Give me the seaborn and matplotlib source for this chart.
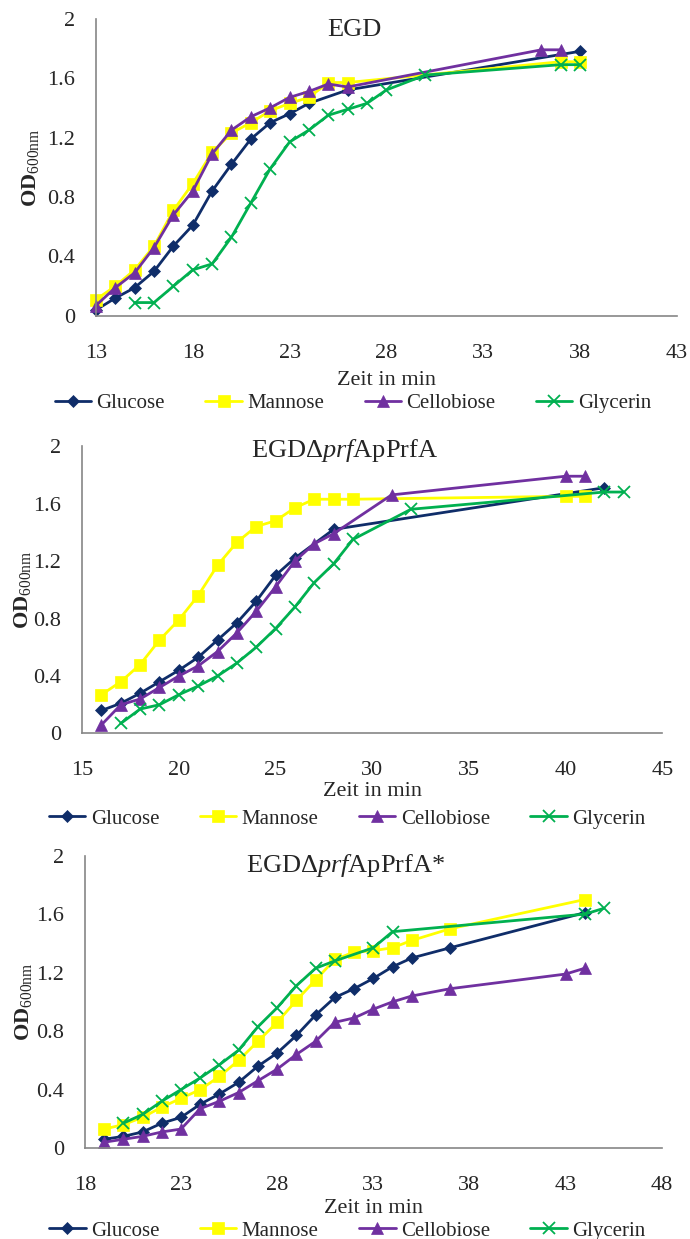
import numpy as np
import pandas as pd
import matplotlib
matplotlib.use('Agg')
import matplotlib.pyplot as plt
import seaborn as sns

# Wachstumskurven
sugars = ['Glucose', 'Mannose', 'Cellobiose', 'Glycerin']
colors = ['#0F2D69', '#FFFF00', '#7030A0', '#00B050']
markers = ['D', 's', '^', 'x']
marker_sizes = [6, 9, 9, 8]

# EGD
egd_glc_t = [13, 14, 15, 16, 17, 18, 19, 20, 21, 22, 23, 24, 26, 38]
egd_glc_od = [0.04, 0.12, 0.19, 0.30, 0.47, 0.61, 0.84, 1.02, 1.19, 1.30, 1.36, 1.43, 1.52, 1.78]
egd_man_t = [13, 14, 15, 16, 17, 18, 19, 20, 21, 22, 23, 24, 25, 26, 37, 38]
egd_man_od = [0.11, 0.20, 0.31, 0.47, 0.71, 0.89, 1.10, 1.23, 1.30, 1.38, 1.43, 1.47, 1.57, 1.57, 1.71, 1.71]
egd_cel_t = [13, 14, 15, 16, 17, 18, 19, 20, 21, 22, 23, 24, 25, 26, 36, 37]
egd_cel_od = [0.07, 0.19, 0.29, 0.46, 0.68, 0.84, 1.09, 1.25, 1.34, 1.40, 1.47, 1.51, 1.56, 1.54, 1.79, 1.79]
egd_gly_t = [15, 16, 17, 18, 19, 20, 21, 22, 23, 24, 25, 26, 27, 28, 30, 37, 38]
egd_gly_od = [0.09, 0.09, 0.20, 0.31, 0.35, 0.53, 0.76, 0.99, 1.17, 1.25, 1.35, 1.39, 1.43, 1.52, 1.62, 1.69, 1.69]

# EGD delta prfA pPrfA
prfa_glc_t = [16, 17, 18, 19, 20, 21, 22, 23, 24, 25, 26, 28, 42]
prfa_glc_od = [0.16, 0.21, 0.28, 0.36, 0.44, 0.53, 0.65, 0.77, 0.92, 1.10, 1.22, 1.42, 1.71]
prfa_man_t = [16, 17, 18, 19, 20, 21, 22, 23, 24, 25, 26, 27, 28, 29, 40, 41]
prfa_man_od = [0.27, 0.36, 0.48, 0.65, 0.79, 0.96, 1.17, 1.33, 1.44, 1.48, 1.57, 1.63, 1.63, 1.63, 1.65, 1.65]
prfa_cel_t = [16, 17, 18, 19, 20, 21, 22, 23, 24, 25, 26, 27, 28, 31, 40, 41]
prfa_cel_od = [0.06, 0.20, 0.24, 0.32, 0.40, 0.47, 0.57, 0.70, 0.85, 1.02, 1.20, 1.32, 1.39, 1.66, 1.79, 1.79]
prfa_gly_t = [17, 18, 19, 20, 21, 22, 23, 24, 25, 26, 27, 28, 29, 32, 42, 43]
prfa_gly_od = [0.07, 0.17, 0.20, 0.27, 0.33, 0.40, 0.49, 0.60, 0.73, 0.88, 1.05, 1.18, 1.35, 1.56, 1.68, 1.68]

# EGD delta prfA pPrfA*
star_glc_t = [19, 20, 21, 22, 23, 24, 25, 26, 27, 28, 29, 30, 31, 32, 33, 34, 35, 37, 44]
star_glc_od = [0.06, 0.08, 0.11, 0.17, 0.21, 0.30, 0.37, 0.45, 0.56, 0.65, 0.77, 0.91, 1.03, 1.09, 1.16, 1.24, 1.30, 1.37, 1.61]
star_man_t = [19, 20, 21, 22, 23, 24, 25, 26, 27, 28, 29, 30, 31, 32, 33, 34, 35, 37, 44]
star_man_od = [0.13, 0.16, 0.21, 0.28, 0.34, 0.40, 0.49, 0.60, 0.73, 0.86, 1.01, 1.15, 1.29, 1.34, 1.35, 1.37, 1.42, 1.50, 1.70]
star_cel_t = [19, 20, 21, 22, 23, 24, 25, 26, 27, 28, 29, 30, 31, 32, 33, 34, 35, 37, 43, 44]
star_cel_od = [0.04, 0.06, 0.08, 0.11, 0.13, 0.27, 0.32, 0.38, 0.46, 0.54, 0.64, 0.73, 0.86, 0.89, 0.95, 1.00, 1.04, 1.09, 1.19, 1.23]
star_gly_t = [20, 21, 22, 23, 24, 25, 26, 27, 28, 29, 30, 31, 33, 34, 44, 45]
star_gly_od = [0.17, 0.23, 0.32, 0.40, 0.48, 0.57, 0.67, 0.83, 0.96, 1.11, 1.23, 1.28, 1.37, 1.48, 1.60, 1.64]

y_ticks = [0, 0.4, 0.8, 1.2, 1.6, 2]
y_tick_labels = ['0', '0.4', '0.8', '1.2', '1.6', '2']

panels = [
    ('EGD', 13, [(egd_glc_t, egd_glc_od), (egd_man_t, egd_man_od), (egd_cel_t, egd_cel_od), (egd_gly_t, egd_gly_od)]),
    (r'EGD$\Delta\mathit{prf}$ApPrfA', 15, [(prfa_glc_t, prfa_glc_od), (prfa_man_t, prfa_man_od), (prfa_cel_t, prfa_cel_od), (prfa_gly_t, prfa_gly_od)]),
    (r'EGD$\Delta\mathit{prf}$ApPrfA*', 18, [(star_glc_t, star_glc_od), (star_man_t, star_man_od), (star_cel_t, star_cel_od), (star_gly_t, star_gly_od)]),
]

sns.set_style('white')
plt.rcParams['font.family'] = ['Liberation Serif', 'DejaVu Serif']
plt.rcParams['mathtext.fontset'] = 'custom'
plt.rcParams['mathtext.rm'] = 'Liberation Serif'
plt.rcParams['mathtext.it'] = 'Liberation Serif:italic'
plt.rcParams['mathtext.bf'] = 'Liberation Serif:bold'

fig = plt.figure(figsize=(6.9, 12.39), dpi=100)
# axes rectangles in figure fractions, plus a few per-panel offsets
rects = [[0.139, 0.745, 0.842, 0.240],
         [0.119, 0.408, 0.841, 0.232],
         [0.123, 0.0734, 0.836, 0.236]]
title_y = [0.96, 0.986, 0.966]
title_x = [0.445, 0.452, 0.452]
xlabel_pad = [6, 1, 3]
ylabel_x = [-0.095, -0.085, -0.088]
legend_anchor = [(-0.071, -0.262), (-0.057, -0.263), (-0.062, -0.25)]

axis_grey = '#868686'

for i, (rect, (title, x0, series)) in enumerate(zip(rects, panels)):
    ax = fig.add_axes(rect)
    frames = []
    for name, (t, od) in zip(sugars, series):
        frames.append(pd.DataFrame({'Zeit': t, 'OD': od, 'Zucker': name}))
    df = pd.concat(frames, ignore_index=True)
    for name, col, mk, ms in zip(sugars, colors, markers, marker_sizes):
        sub = df[df['Zucker'] == name]
        sns.lineplot(data=sub, x='Zeit', y='OD', ax=ax, color=col, marker=mk,
                     markersize=ms, markeredgecolor=col,
                     markeredgewidth=1.3 if mk == 'x' else 0.5,
                     linewidth=2, label=name, sort=False, clip_on=False)

    x_ticks = list(range(x0, x0 + 31, 5))
    ax.set_xlim(x0, x0 + 30)
    ax.set_ylim(0, 2)
    ax.set_xticks(x_ticks)
    ax.set_xticklabels([str(v) for v in x_ticks], fontsize=16)
    ax.set_yticks(y_ticks)
    ax.set_yticklabels(y_tick_labels, fontsize=16)
    ax.tick_params(axis='x', direction='out', length=6, width=1, color=axis_grey, pad=14)
    ax.tick_params(axis='y', direction='out', length=6, width=1, color=axis_grey, pad=9)
    for side in ['top', 'right']:
        ax.spines[side].set_visible(False)
    for side in ['left', 'bottom']:
        ax.spines[side].set_color(axis_grey)
        ax.spines[side].set_linewidth(1.2)
    ax.set_xlabel('Zeit in min', fontsize=16, labelpad=xlabel_pad[i])
    ax.set_ylabel(r'$\mathbf{OD}_{\mathregular{600nm}}$', fontsize=16)
    ax.yaxis.set_label_coords(ylabel_x[i], 0.5)
    ax.text(title_x[i], title_y[i], title, transform=ax.transAxes,
            ha='center', va='center', fontsize=19)
    ax.legend(loc='upper left', bbox_to_anchor=legend_anchor[i], ncol=4, frameon=False,
              fontsize=15, handlelength=1.75, handletextpad=0.25, columnspacing=1.95,
              borderpad=0, borderaxespad=0)

fig.savefig('out.png', dpi=100)
